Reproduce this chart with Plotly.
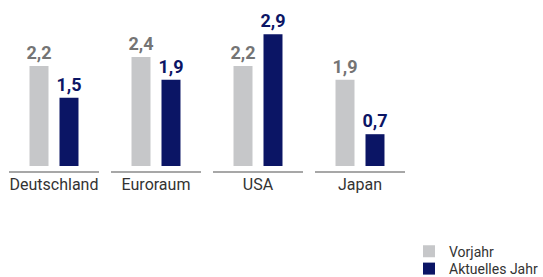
import plotly.graph_objects as go

categories = ["Deutschland", "Euroraum", "USA", "Japan"]
vorjahr = [2.2, 2.4, 2.2, 1.9]
aktuell = [1.5, 1.9, 2.9, 0.7]
series_names = ["Vorjahr", "Aktuelles Jahr"]

GRAY = "#c6c7c9"
NAVY = "#0b1565"
FONT = "Roboto"
W, H = 543, 277
MT, MB = 7, 111
PH = H - MT - MB

def de(v):
    return f"{v:.1f}".replace(".", ",")

fig = go.Figure()
fig.add_trace(go.Bar(
    x=categories, y=vorjahr, name=series_names[0], legend="legend",
    marker=dict(color=GRAY, line=dict(width=0)),
    text=[de(v) for v in vorjahr], textposition="outside", constraintext="none",
    textfont=dict(family=FONT, size=18, color="#747474", weight="bold"),
    cliponaxis=False,
))
fig.add_trace(go.Bar(
    x=categories, y=aktuell, name=series_names[1], legend="legend2",
    marker=dict(color=NAVY, line=dict(width=0)),
    text=[de(v) for v in aktuell], textposition="outside", constraintext="none",
    textfont=dict(family=FONT, size=18, color=NAVY, weight="bold"),
    cliponaxis=False,
))

line_y = -(172 - (H - MB)) / PH
shapes = []
for i, _ in enumerate(categories):
    shapes.append(dict(type="line", xref="x", yref="paper",
                       x0=i - 45/102, x1=i + 45/102, y0=line_y, y1=line_y,
                       line=dict(color="#8a8a8a", width=1.5)))

legend_common = dict(xref="container", yref="container", xanchor="left", yanchor="middle",
                     font=dict(family=FONT, size=14, color="#333333"),
                     bgcolor="rgba(0,0,0,0)", borderwidth=0)

fig.update_layout(
    width=W, height=H,
    margin=dict(l=0, r=0, t=MT, b=MB, autoexpand=False),
    paper_bgcolor="white", plot_bgcolor="white",
    barmode="group", bargap=0.412, bargroupgap=0.367,
    font=dict(family=FONT, color="#333333"),
    showlegend=True,
    legend=dict(x=409/W, y=1 - 251.7/H, **legend_common),
    legend2=dict(x=409/W, y=1 - 269/H, **legend_common),
    xaxis=dict(domain=[3/W, 411/W], range=[-0.5, 3.5], showgrid=False,
               showline=False, zeroline=False, ticks="",
               tickfont=dict(family=FONT, size=16, color="#333333"),
               ticklabelstandoff=7),
    yaxis=dict(range=[0, 3.5], visible=False, showgrid=False, zeroline=False),
    shapes=shapes,
)

fig.write_html("out.html", config={"displayModeBar": False},
               post_script="document.body.style.margin='0';document.body.style.padding='0';")
